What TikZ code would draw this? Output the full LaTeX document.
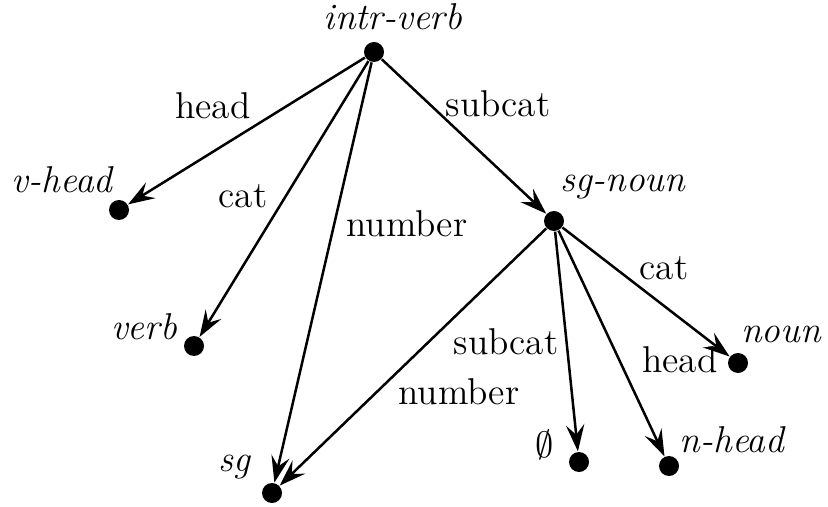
\documentclass[tikz,border=0pt]{standalone}
\usepackage{amsmath,amssymb}
\usetikzlibrary{arrows.meta}

\begin{document}
\begin{tikzpicture}[x=0.3pt,y=-0.3pt,
    font=\fontsize{11.2}{13.5}\selectfont,
    fsdot/.style={circle,fill=black,inner sep=0pt,minimum size=6pt},
    fsarrow/.style={-{Stealth[length=8pt,width=5.5pt,inset=3pt]},line width=0.75pt},
    fstype/.style={font=\fontsize{11.2}{13.5}\selectfont\itshape,inner sep=1pt},
    fsfeat/.style={inner sep=1pt}
]
\useasboundingbox (0,0) rectangle (828,507);
% feature structure nodes
\node[fsdot] (intrverb) at (374,52) {};
\node[fsdot] (vhead) at (119,210) {};
\node[fsdot] (verb) at (194,346) {};
\node[fsdot] (sg) at (272,493) {};
\node[fsdot] (sgnoun) at (554,221) {};
\node[fsdot] (noun) at (738,363) {};
\node[fsdot] (empty) at (579,462) {};
\node[fsdot] (nhead) at (669,466) {};
% type labels
\node[fstype] (intrverblbl) at (393,17) {intr-verb};
\node[fstype] (vheadlbl) at (62,180) {v-head};
\node[fstype] (verblbl) at (144,327) {verb};
\node[fstype] (sglbl) at (234,467) {sg};
\node[fstype] (sgnounlbl) at (623,187) {sg-noun};
\node[fstype] (nounlbl) at (781,334) {noun};
\node[fsfeat] (emptylbl) at (545,445) {$\emptyset$};
\node[fstype] (nheadlbl) at (732,440) {n-head};
% feature labels
\node[fsfeat] (fhead) at (213,106) {head};
\node[fsfeat] (fcat) at (243,196) {cat};
\node[fsfeat] (fnumber) at (407,224) {number};
\node[fsfeat] (fsubcat) at (498,104) {subcat};
\node[fsfeat] (fcattwo) at (664,268) {cat};
\node[fsfeat] (fsubcattwo) at (506,342) {subcat};
\node[fsfeat] (fheadtwo) at (680,360) {head};
\node[fsfeat] (fnumbertwo) at (459,392) {number};
% arcs
\draw[fsarrow] (intrverb)--(vhead);
\draw[fsarrow] (intrverb)--(verb);
\draw[fsarrow] (intrverb)--(sg);
\draw[fsarrow] (intrverb)--(sgnoun);
\draw[fsarrow] (sgnoun)--(sg);
\draw[fsarrow] (sgnoun)--(empty);
\draw[fsarrow] (sgnoun)--(nhead);
\draw[fsarrow] (sgnoun)--(noun);
\end{tikzpicture}
\end{document}
